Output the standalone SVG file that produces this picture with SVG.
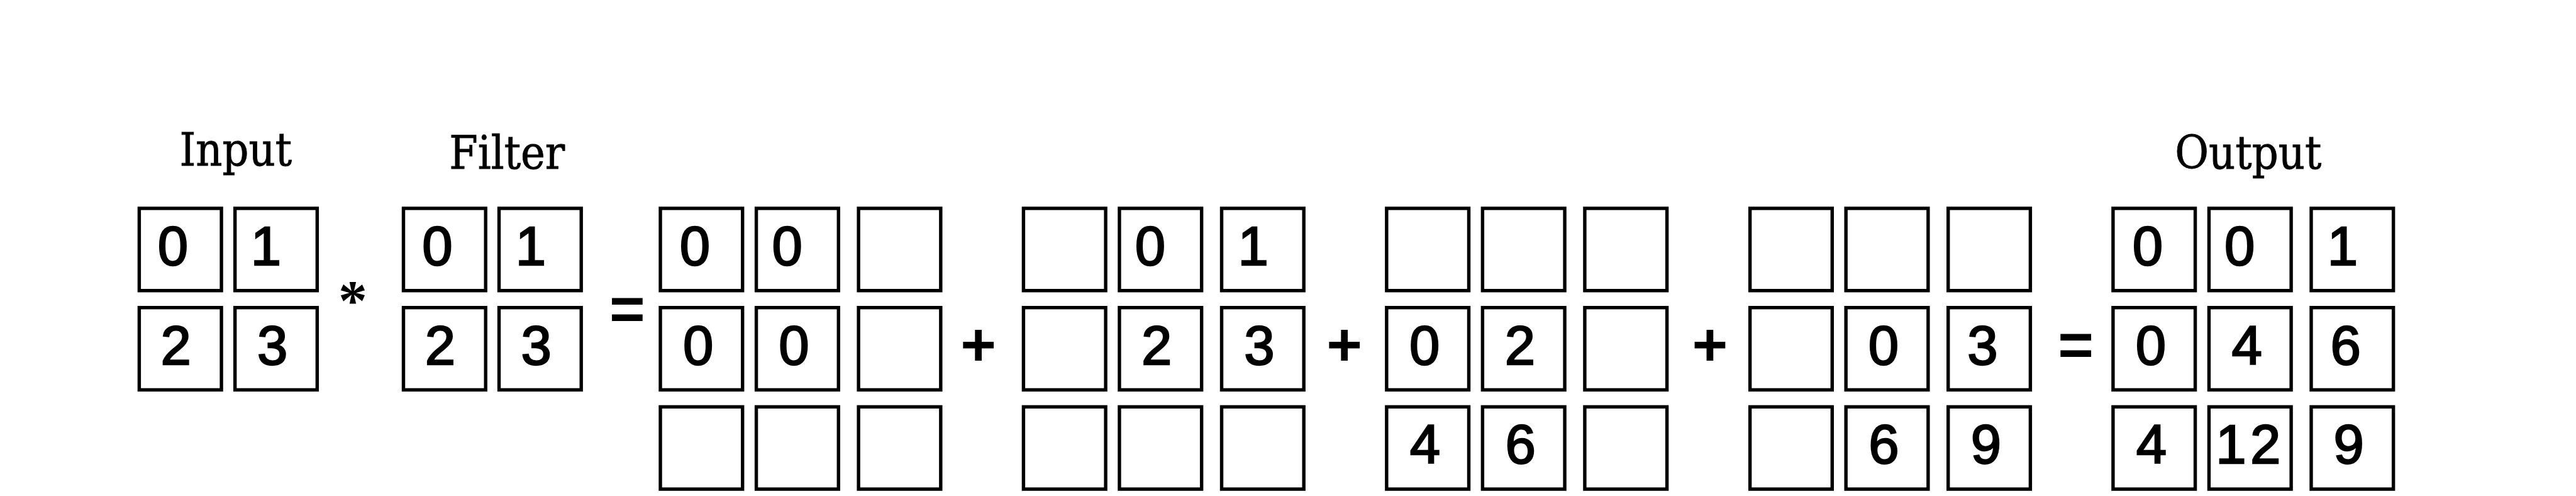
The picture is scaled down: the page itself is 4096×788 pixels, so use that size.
<svg xmlns="http://www.w3.org/2000/svg" width="4096" height="788" viewBox="0 0 4096 788">
<style>
.cell{fill:#fff;stroke:#000;stroke-width:10}
.num{font-family:"Liberation Sans",Arial,sans-serif;font-size:161px;text-anchor:middle;fill:#000;stroke:#000;stroke-width:4.5}
.op{font-family:"Liberation Sans",Arial,sans-serif;font-weight:bold;font-size:180px;text-anchor:middle;fill:#000}
.ast{font-family:"Liberation Serif","Times New Roman",serif;font-weight:bold;font-size:170px;text-anchor:middle;fill:#000}
.label{font-family:"DejaVu Serif Condensed","DejaVu Serif",serif;font-stretch:condensed;font-size:135px;text-anchor:middle;fill:#000;stroke:#000;stroke-width:1.5}
</style>
<rect width="4096" height="788" fill="#fff"/>
<g transform="scale(0.54)">
<g id="input">
<text class="label" x="694" y="487">Input</text>
<g id="input-00"><rect class="cell" x="410" y="613" width="242" height="242"/><text class="num" x="509" y="779">0</text></g>
<g id="input-01"><rect class="cell" x="692" y="613" width="242" height="242"/><text class="num" x="783" y="779">1</text></g>
<g id="input-10"><rect class="cell" x="410" y="905" width="242" height="242"/><text class="num" x="518" y="1073">2</text></g>
<g id="input-11"><rect class="cell" x="692" y="905" width="242" height="242"/><text class="num" x="802" y="1073">3</text></g>
</g>
<g id="op-conv"><text class="ast" x="1039" y="940">*</text></g>
<g id="filter">
<text class="label" x="1493" y="497">Filter</text>
<g id="filter-00"><rect class="cell" x="1188" y="613" width="242" height="242"/><text class="num" x="1288" y="779">0</text></g>
<g id="filter-01"><rect class="cell" x="1469.5" y="613" width="242" height="242"/><text class="num" x="1563" y="779">1</text></g>
<g id="filter-10"><rect class="cell" x="1188" y="905" width="242" height="242"/><text class="num" x="1296" y="1073">2</text></g>
<g id="filter-11"><rect class="cell" x="1469.5" y="905" width="242" height="242"/><text class="num" x="1579" y="1073">3</text></g>
</g>
<g id="op-eq1"><text class="op" x="1847" y="971">=</text></g>
<g id="term1">
<g id="t1-00"><rect class="cell" x="1944.5" y="613" width="242" height="242"/><text class="num" x="2046" y="779">0</text></g>
<g id="t1-01"><rect class="cell" x="2227" y="613" width="242" height="242"/><text class="num" x="2318" y="779">0</text></g>
<g id="t1-02"><rect class="cell" x="2528" y="613" width="242" height="242"/></g>
<g id="t1-10"><rect class="cell" x="1944.5" y="905" width="242" height="242"/><text class="num" x="2056" y="1073">0</text></g>
<g id="t1-11"><rect class="cell" x="2227" y="905" width="242" height="242"/><text class="num" x="2338" y="1073">0</text></g>
<g id="t1-12"><rect class="cell" x="2528" y="905" width="242" height="242"/></g>
<g id="t1-20"><rect class="cell" x="1944.5" y="1197" width="242" height="242"/></g>
<g id="t1-21"><rect class="cell" x="2227" y="1197" width="242" height="242"/></g>
<g id="t1-22"><rect class="cell" x="2528" y="1197" width="242" height="242"/></g>
</g>
<g id="op-plus1"><text class="op" x="2881" y="1075">+</text></g>
<g id="term2">
<g id="t2-00"><rect class="cell" x="3013.7" y="613" width="242" height="242"/></g>
<g id="t2-01"><rect class="cell" x="3296.2" y="613" width="242" height="242"/><text class="num" x="3387" y="779">0</text></g>
<g id="t2-02"><rect class="cell" x="3597.2" y="613" width="242" height="242"/><text class="num" x="3690" y="779">1</text></g>
<g id="t2-10"><rect class="cell" x="3013.7" y="905" width="242" height="242"/></g>
<g id="t2-11"><rect class="cell" x="3296.2" y="905" width="242" height="242"/><text class="num" x="3406" y="1073">2</text></g>
<g id="t2-12"><rect class="cell" x="3597.2" y="905" width="242" height="242"/><text class="num" x="3708" y="1073">3</text></g>
<g id="t2-20"><rect class="cell" x="3013.7" y="1197" width="242" height="242"/></g>
<g id="t2-21"><rect class="cell" x="3296.2" y="1197" width="242" height="242"/></g>
<g id="t2-22"><rect class="cell" x="3597.2" y="1197" width="242" height="242"/></g>
</g>
<g id="op-plus2"><text class="op" x="3958.5" y="1075">+</text></g>
<g id="term3">
<g id="t3-00"><rect class="cell" x="4083" y="613" width="242" height="242"/></g>
<g id="t3-01"><rect class="cell" x="4365.5" y="613" width="242" height="242"/></g>
<g id="t3-02"><rect class="cell" x="4666.5" y="613" width="242" height="242"/></g>
<g id="t3-10"><rect class="cell" x="4083" y="905" width="242" height="242"/><text class="num" x="4195" y="1073">0</text></g>
<g id="t3-11"><rect class="cell" x="4365.5" y="905" width="242" height="242"/><text class="num" x="4476" y="1073">2</text></g>
<g id="t3-12"><rect class="cell" x="4666.5" y="905" width="242" height="242"/></g>
<g id="t3-20"><rect class="cell" x="4083" y="1197" width="242" height="242"/><text class="num" x="4196" y="1363">4</text></g>
<g id="t3-21"><rect class="cell" x="4365.5" y="1197" width="242" height="242"/><text class="num" x="4477" y="1363">6</text></g>
<g id="t3-22"><rect class="cell" x="4666.5" y="1197" width="242" height="242"/></g>
</g>
<g id="op-plus3"><text class="op" x="5035" y="1075">+</text></g>
<g id="term4">
<g id="t4-00"><rect class="cell" x="5153" y="613" width="242" height="242"/></g>
<g id="t4-01"><rect class="cell" x="5435.5" y="613" width="242" height="242"/></g>
<g id="t4-02"><rect class="cell" x="5736.5" y="613" width="242" height="242"/></g>
<g id="t4-10"><rect class="cell" x="5153" y="905" width="242" height="242"/></g>
<g id="t4-11"><rect class="cell" x="5435.5" y="905" width="242" height="242"/><text class="num" x="5546" y="1073">0</text></g>
<g id="t4-12"><rect class="cell" x="5736.5" y="905" width="242" height="242"/><text class="num" x="5838" y="1073">3</text></g>
<g id="t4-20"><rect class="cell" x="5153" y="1197" width="242" height="242"/></g>
<g id="t4-21"><rect class="cell" x="5435.5" y="1197" width="242" height="242"/><text class="num" x="5547" y="1363">6</text></g>
<g id="t4-22"><rect class="cell" x="5736.5" y="1197" width="242" height="242"/><text class="num" x="5848" y="1363">9</text></g>
</g>
<g id="op-eq2"><text class="op" x="6112.5" y="1075">=</text></g>
<g id="output">
<text class="label" x="6620" y="497">Output</text>
<g id="out-00"><rect class="cell" x="6222" y="613" width="242" height="242"/><text class="num" x="6324" y="779">0</text></g>
<g id="out-01"><rect class="cell" x="6504.5" y="613" width="242" height="242"/><text class="num" x="6595" y="779">0</text></g>
<g id="out-02"><rect class="cell" x="6805.5" y="613" width="242" height="242"/><text class="num" x="6898" y="779">1</text></g>
<g id="out-10"><rect class="cell" x="6222" y="905" width="242" height="242"/><text class="num" x="6333" y="1073">0</text></g>
<g id="out-11"><rect class="cell" x="6504.5" y="905" width="242" height="242"/><text class="num" x="6616" y="1073">4</text></g>
<g id="out-12"><rect class="cell" x="6805.5" y="905" width="242" height="242"/><text class="num" x="6907" y="1073">6</text></g>
<g id="out-20"><rect class="cell" x="6222" y="1197" width="242" height="242"/><text class="num" x="6335" y="1363">4</text></g>
<g id="out-21"><rect class="cell" x="6504.5" y="1197" width="242" height="242"/><text class="num" x="6626" y="1363" letter-spacing="12">12</text></g>
<g id="out-22"><rect class="cell" x="6805.5" y="1197" width="242" height="242"/><text class="num" x="6916" y="1363">9</text></g>
</g>
<g id="connectors"/>
</g>
</svg>
